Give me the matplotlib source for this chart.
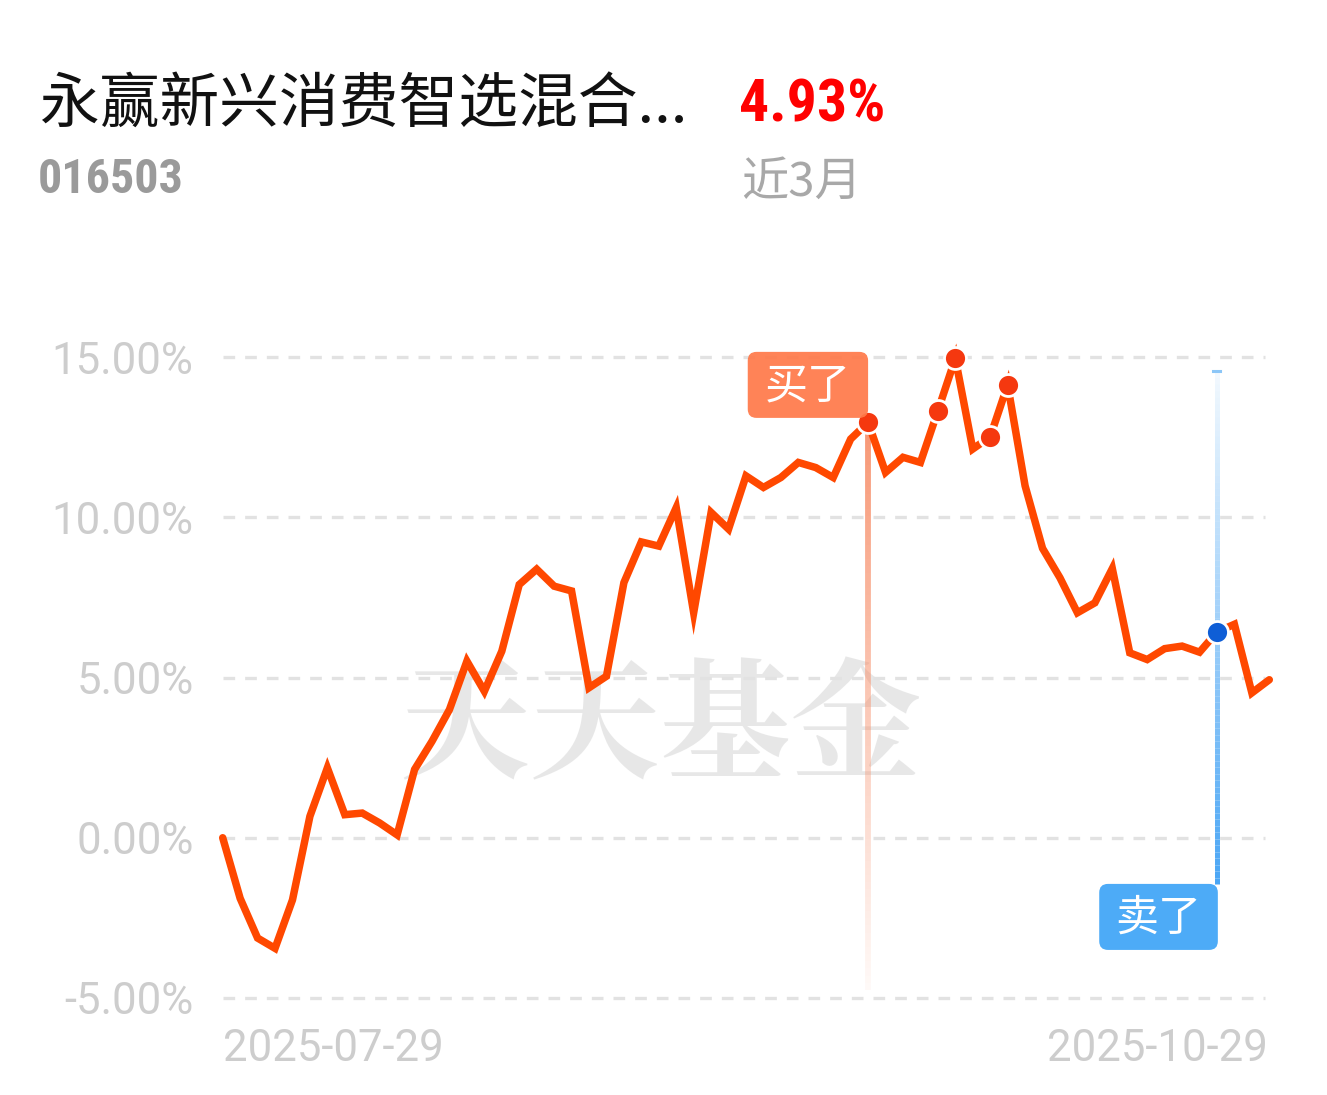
import numpy as np
import matplotlib
matplotlib.use('Agg')
import matplotlib.pyplot as plt
from matplotlib.collections import LineCollection
from matplotlib.patches import FancyBboxPatch
from matplotlib.colors import to_rgba
import logging

logging.getLogger('matplotlib.font_manager').setLevel(logging.ERROR)
plt.rcParams['font.family'] = ['Noto Sans CJK SC', 'DejaVu Sans']

# --- Data ---
fund_name = '永赢新兴消费智选混合...'
fund_code = '016503'
period_return = '4.93%'
period_label = '近3月'
start_date, end_date = '2025-07-29', '2025-10-29'
y_ticks = [-5, 0, 5, 10, 15]
returns = [0.0, -1.89, -3.13, -3.45, -1.94, 0.67, 2.18, 0.72, 0.77, 0.46,
           0.09, 2.13, 3.01, 4.0, 5.51, 4.57, 5.82, 7.9, 8.38, 7.85,
           7.7, 4.68, 5.04, 7.96, 9.23, 9.1, 10.3, 7.02, 10.15, 9.63,
           11.29, 10.93, 11.24, 11.71, 11.55, 11.24, 12.44, 12.96, 11.4, 11.87,
           11.71, 13.32, 14.96, 12.13, 12.51, 14.13, 10.98, 9.03, 8.11, 7.02,
           7.33, 8.4, 5.77, 5.56, 5.9, 5.98, 5.79, 6.42, 6.66, 4.52, 4.93]
buy_idx = 37
sell_idx = 57
red_dots = [37, 41, 42, 44, 45]

x = np.arange(len(returns))
y = np.array(returns)

NARROW = ['Roboto Condensed', 'Liberation Sans Narrow', 'Roboto']
LABEL = ['Roboto', 'DejaVu Sans']

W, H = 1327, 1095
fig = plt.figure(figsize=(W / 100, H / 100), dpi=100)
fig.patch.set_facecolor('white')

# --- Header texts ---
fig.text(40 / W, 1 - 105 / H, fund_name, fontsize=43, color='#111111', va='center', ha='left')
fig.text(739 / W, 1 - 106 / H, period_return, fontsize=43, color='#FF0000', va='center', ha='left',
         family=NARROW, weight='bold')
fig.text(38 / W, 1 - 180 / H, fund_code, fontsize=34.5, color='#9A9A9A', va='center', ha='left',
         family=NARROW, weight='bold')
fig.text(741 / W, 1 - 183 / H, period_label, fontsize=34, color='#A8A8A8', va='center', ha='left')

# --- Axes ---
ax = fig.add_axes([222.7 / W, (H - 998) / H, (1269.3 - 222.7) / W, 641 / H])
ax.set_xlim(0, len(returns) - 1)
ax.set_ylim(-5, 15)
for s in ax.spines.values():
    s.set_visible(False)
ax.set_xticks([])
ax.set_yticks(y_ticks)
ax.set_yticklabels([f'{v:.2f}%' for v in y_ticks], family=LABEL, fontsize=31.5, color='#CDCDCD')
ax.tick_params(axis='y', length=0, pad=21)
for v in y_ticks:
    ax.plot([0, 59.75], [v, v], color='#E2E2E2', lw=2.4, dashes=(3.5, 3), zorder=1, clip_on=False)

# watermark
ax.text(25.1, 3.3, '天天基金', fontsize=94, weight='bold', color='#E2E2E2', alpha=0.8,
        family=['Noto Serif CJK SC', 'Zen Old Mincho', 'Noto Sans CJK SC'],
        ha='center', va='center', zorder=1.5)

# --- Buy marker: fading vertical line ---
n = 80
ys = np.linspace(y[buy_idx], -4.75, n)
segs = [[(buy_idx, ys[i]), (buy_idx, ys[i + 1])] for i in range(n - 1)]
base = np.array(to_rgba('#F7926E'))
cols = np.tile(base, (n - 1, 1))
cols[:, 3] = np.linspace(0.95, 0.05, n - 1)
ax.add_collection(LineCollection(segs, colors=cols, linewidths=4.2, zorder=2))

# --- Sell marker: vertical line fading upward ---
ys = np.linspace(14.55, -1.45, n)
segs = [[(sell_idx, ys[i]), (sell_idx, ys[i + 1])] for i in range(n - 1)]
base = np.array(to_rgba('#4AA6F5'))
cols = np.tile(base, (n - 1, 1))
cols[:, 3] = np.linspace(0.07, 1.0, n - 1)
ax.add_collection(LineCollection(segs, colors=cols, linewidths=3.6, zorder=2))
ax.plot([sell_idx - 0.2, sell_idx + 0.2], [14.55, 14.55], color='#8CC6F7', lw=2.2, zorder=2)

# --- Main line ---
ax.plot(x, y, color='#FF4800', lw=5.4, solid_joinstyle='miter', solid_capstyle='round',
        zorder=3, clip_on=False)
ax.scatter(x[red_dots], y[red_dots], s=250, color='#F5380F', edgecolor='white', linewidth=2,
           zorder=4, clip_on=False)
ax.scatter([x[sell_idx]], [y[sell_idx]], s=250, color='#0F5ED6', edgecolor='white', linewidth=2,
           zorder=4, clip_on=False)

# --- Label boxes ---
asp = (W * 0.7887 / 60) / (641 / 20)
buy_box = FancyBboxPatch((buy_idx - 6.9, 13.1), 6.9, 2.06,
                         boxstyle='round,pad=0,rounding_size=0.5', mutation_aspect=asp,
                         fc='#FF7A4A', ec='none', alpha=0.93, zorder=5, clip_on=False)
ax.add_patch(buy_box)
ax.text(buy_idx - 3.45, 14.07, '买了', fontsize=31, color='white', ha='center', va='center', zorder=6)

sell_box = FancyBboxPatch((sell_idx - 6.75, -3.5), 6.8, 2.06,
                          boxstyle='round,pad=0,rounding_size=0.5', mutation_aspect=asp,
                          fc='#4DABF7', ec='none', zorder=5, clip_on=False)
ax.add_patch(sell_box)
ax.text(sell_idx - 3.35, -2.53, '卖了', fontsize=31, color='white', ha='center', va='center', zorder=6)

# --- Date labels ---
fig.text(223 / W, 1 - 1049 / H, start_date, family=LABEL, fontsize=31.5,
         color='#CDCDCD', ha='left', va='center')
fig.text(1268 / W, 1 - 1049 / H, end_date, family=LABEL, fontsize=31.5,
         color='#CDCDCD', ha='right', va='center')

fig.savefig('out.png', dpi=100, facecolor='white')
